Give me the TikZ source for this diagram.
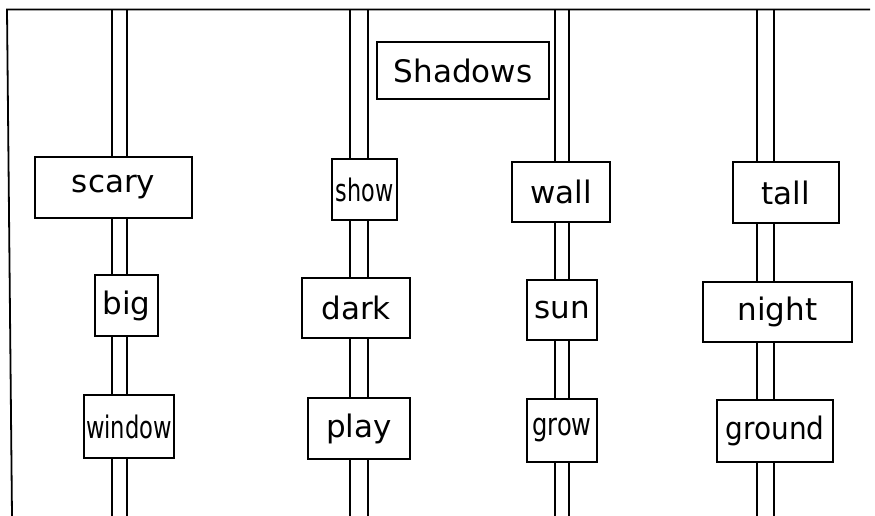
\documentclass[tikz,border=0pt]{standalone}
\usepackage{fontspec}
\setmainfont{DejaVu Sans}
\usepackage{graphicx}
\begin{document}
\begin{tikzpicture}[x=1pt,y=-1pt,
  word/.style={draw, line width=2pt, fill=white, inner sep=0pt,
    font=\fontsize{31}{35}\selectfont},
  pole/.style={draw, line width=1.8pt, double=white},
  frame/.style={line width=1.8pt}]
\useasboundingbox (0,0) rectangle (875,516);
% poles
\coordinate (p1t) at (119.5,9.5); \coordinate (p1b) at (119.5,520);
\coordinate (p2t) at (359,9.5);   \coordinate (p2b) at (359,520);
\coordinate (p3t) at (562,9.5);   \coordinate (p3b) at (562,520);
\coordinate (p4t) at (765.5,9.5); \coordinate (p4b) at (765.5,520);
\draw[pole, double distance=13.2pt] (p1t) -- (p1b);
\draw[pole, double distance=16.2pt] (p2t) -- (p2b);
\draw[pole, double distance=12.2pt] (p3t) -- (p3b);
\draw[pole, double distance=15.2pt] (p4t) -- (p4b);
% frame
\coordinate (fl) at (12,516);
\coordinate (fc) at (7,9.5);
\coordinate (fr) at (870,9.5);
\draw[frame] (fl) -- (fc) -- (fr);
% title
\node[word, minimum width=172pt, minimum height=57pt] (shadows) at (463,70.5) {Shadows};
% column 1
\node[word, minimum width=157pt, minimum height=61pt] (scary) at (113.5,187.5) {scary};
\node[word, minimum width=63pt, minimum height=61pt] (big) at (126.5,305.5) {big};
\node[word, minimum width=90pt, minimum height=63pt] (window) at (129,426.5) {\scalebox{0.73}[1]{window}};
% column 2
\node[word, minimum width=65pt, minimum height=61pt] (show) at (364.5,189.5) {\scalebox{0.72}[1]{show}};
\node[word, minimum width=108pt, minimum height=60pt] (dark) at (356,308) {dark};
\node[word, minimum width=102pt, minimum height=61pt] (play) at (359,428.5) {play};
% column 3
\node[word, minimum width=98pt, minimum height=60pt] (wall) at (561,192) {wall};
\node[word, minimum width=70pt, minimum height=60pt] (sun) at (562,310) {sun};
\node[word, minimum width=70pt, minimum height=63pt] (grow) at (562,430.5) {\scalebox{0.78}[1]{grow}};
% column 4
\node[word, minimum width=106pt, minimum height=61pt] (tall) at (786,192.5) {tall};
\node[word, minimum width=149pt, minimum height=60pt] (night) at (777.5,312) {night};
\node[word, minimum width=116pt, minimum height=62pt] (ground) at (775,431) {\scalebox{0.9}[1]{ground}};
\end{tikzpicture}
\end{document}
